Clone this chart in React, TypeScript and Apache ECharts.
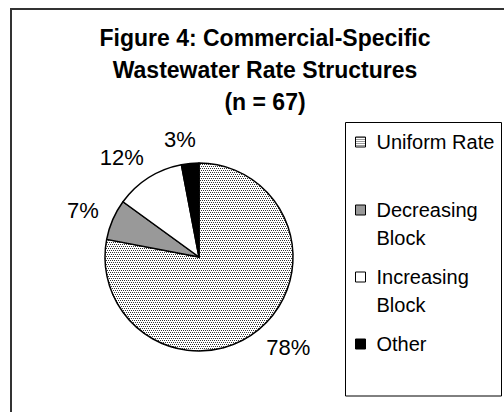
import React, { useEffect, useRef } from "react";
import * as echarts from "echarts";

const titleLines = ["Figure 4: Commercial-Specific", "Wastewater Rate Structures", "(n = 67)"];
const categories = ["Uniform Rate", "Decreasing Block", "Increasing Block", "Other"];
const legendLabels = ["Uniform Rate", "\nDecreasing\nBlock", "\nIncreasing\nBlock", "Other"];
const values = [78, 7, 12, 3];
const sliceColors = ["pattern", "#999999", "#ffffff", "#000000"];

const FONT = "'Liberation Sans', Arial, sans-serif";

function makeDots(): HTMLCanvasElement {
  const c = document.createElement("canvas");
  c.width = 4;
  c.height = 4;
  const ctx = c.getContext("2d")!;
  ctx.fillStyle = "#ffffff";
  ctx.fillRect(0, 0, 4, 4);
  ctx.fillStyle = "#333333";
  [[0, 0], [2, 0], [1, 2], [3, 2]].forEach(([x, y]) => ctx.fillRect(x, y, 1, 1));
  return c;
}

export default function App() {
  const ref = useRef<HTMLDivElement>(null);
  useEffect(() => {
    if (!ref.current) return;
    const chart = echarts.init(ref.current, null, { renderer: "svg" });
    const pattern = { image: makeDots(), repeat: "repeat" };
    const legendTops = [128, 168, 235, 330];
    const option: any = {
      animation: false,
      backgroundColor: "#ffffff",
      title: {
        text: titleLines.join("\n"),
        left: 265,
        top: 22,
        textAlign: "center",
        padding: 0,
        textStyle: { fontSize: 23, fontWeight: "bold", lineHeight: 32, fontFamily: FONT, color: "#000" },
      },
      graphic: [
        {
          type: "rect",
          shape: { x: 11, y: 9, width: 520, height: 430 },
          style: { fill: "none", stroke: "#333", lineWidth: 2 },
          silent: true,
        },
        {
          type: "rect",
          shape: { x: 345.5, y: 122.5, width: 156, height: 273.5 },
          style: { fill: "none", stroke: "#000", lineWidth: 1 },
          silent: true,
        },
      ],
      legend: categories.map((name, i) => ({
        data: [name],
        left: 355,
        top: legendTops[i],
        padding: 0,
        orient: "vertical",
        icon: "rect",
        itemWidth: 10,
        itemHeight: 10,
        selectedMode: false,
        itemStyle: { borderColor: "#000", borderWidth: 1 },
        formatter: () => legendLabels[i],
        textStyle: {
          fontSize: 20,
          lineHeight: 28,
          color: "#000",
          fontFamily: FONT,
          padding: [0, 0, 0, 6],
        },
      })),
      series: [
        {
          type: "pie",
          center: [199, 257],
          radius: 94,
          startAngle: 90,
          clockwise: true,
          silent: true,
          avoidLabelOverlap: false,
          data: categories.map((name, i) => ({
            name,
            value: values[i],
            itemStyle: { color: i === 0 ? pattern : sliceColors[i] },
          })),
          itemStyle: { borderColor: "#000", borderWidth: 1.5 },
          label: {
            show: true,
            position: "outside",
            formatter: "{c}%",
            fontSize: 22,
            color: "#000",
            fontFamily: FONT,
            distanceToLabelLine: -8,
          },
          labelLine: { show: false, length: 24, length2: 0 },
        },
      ],
    };
    chart.setOption(option);
    return () => chart.dispose();
  }, []);
  return (
    <div
      ref={ref}
      style={{ position: "absolute", left: 0, top: 0, width: 504, height: 412, background: "#fff" }}
    />
  );
}
